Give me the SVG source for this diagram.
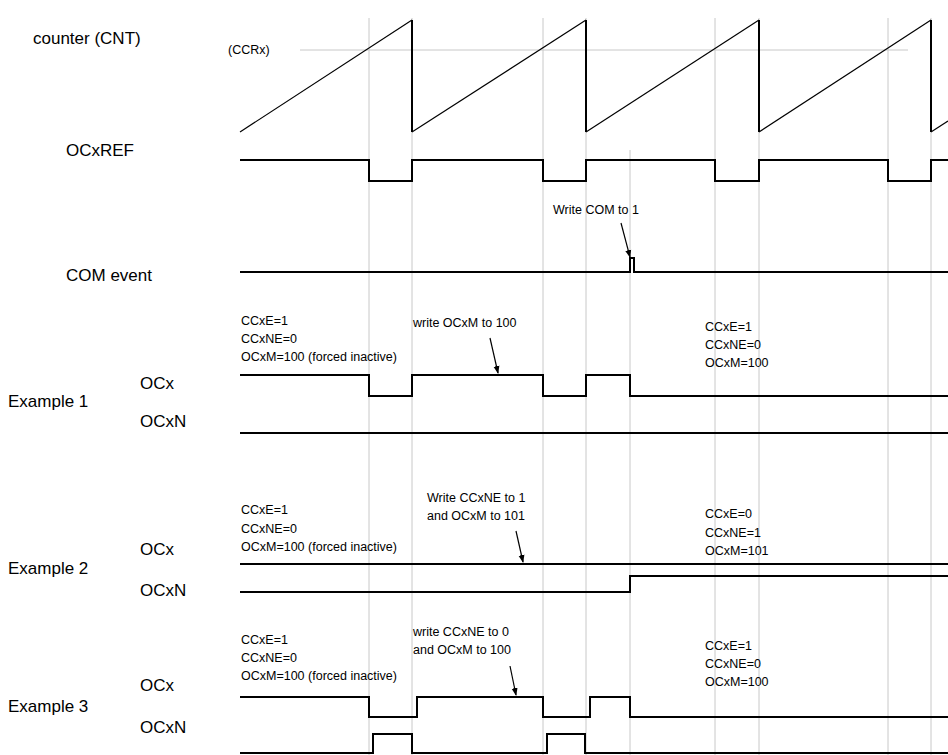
<svg xmlns="http://www.w3.org/2000/svg" width="948" height="755" viewBox="0 0 948 755">
<style>
.g{stroke:#c8c8c8;stroke-width:1;fill:none}
.s{stroke:#000;stroke-width:2;fill:none}
.t{stroke:#000;stroke-width:1.2;fill:none}
.lb{font-family:"Liberation Sans",Arial,sans-serif;font-size:17px;fill:#000}
.an{font-family:"Liberation Sans",Arial,sans-serif;font-size:12.5px;fill:#000}
</style>
<defs><marker id="ah" markerWidth="8" markerHeight="12" refX="7" refY="4" orient="auto" markerUnits="userSpaceOnUse" viewBox="0 0 8 8"><path d="M0,1 L8,4 L0,7 Z" fill="#000"/></marker></defs>
<rect width="948" height="755" fill="#fff"/>
<g id="grid">
<path class="g" d="M369 18V755M412 18V755M543 18V755M586 18V755M630 150V755M715 18V755M759 18V755M888 18V755M931 18V755"/>
<path class="g" d="M300 50H908"/>
</g>
<g id="labels">
<text class="lb" x="33" y="44">counter (CNT)</text>
<text class="an" x="228" y="54" font-size="10">(CCRx)</text>
<text class="lb" x="66" y="156">OCxREF</text>
<text class="lb" x="66" y="281">COM event</text>
<text class="lb" x="140" y="389">OCx</text>
<text class="lb" x="8" y="407">Example 1</text>
<text class="lb" x="140" y="427">OCxN</text>
<text class="lb" x="140" y="555">OCx</text>
<text class="lb" x="8" y="574">Example 2</text>
<text class="lb" x="140" y="596">OCxN</text>
<text class="lb" x="140" y="691">OCx</text>
<text class="lb" x="8" y="712">Example 3</text>
<text class="lb" x="140" y="733">OCxN</text>
</g>
<g id="annotations">
<text class="an" x="553" y="214">Write COM to 1</text>
<text class="an" x="241" y="325">CCxE=1</text><text class="an" x="241" y="343">CCxNE=0</text><text class="an" x="241" y="361">OCxM=100 (forced inactive)</text>
<text class="an" x="413" y="327">write OCxM to 100</text>
<text class="an" x="705" y="331">CCxE=1</text><text class="an" x="705" y="349">CCxNE=0</text><text class="an" x="705" y="367">OCxM=100</text>
<text class="an" x="427" y="502">Write CCxNE to 1</text><text class="an" x="427" y="520">and OCxM to 101</text>
<text class="an" x="241" y="514">CCxE=1</text><text class="an" x="241" y="533">CCxNE=0</text><text class="an" x="241" y="551">OCxM=100 (forced inactive)</text>
<text class="an" x="705" y="518">CCxE=0</text><text class="an" x="705" y="537">CCxNE=1</text><text class="an" x="705" y="555">OCxM=101</text>
<text class="an" x="413" y="636">write CCxNE to 0</text><text class="an" x="413" y="654">and OCxM to 100</text>
<text class="an" x="241" y="644">CCxE=1</text><text class="an" x="241" y="662">CCxNE=0</text><text class="an" x="241" y="680">OCxM=100 (forced inactive)</text>
<text class="an" x="705" y="650">CCxE=1</text><text class="an" x="705" y="668">CCxNE=0</text><text class="an" x="705" y="686">OCxM=100</text>
</g>
<g id="connectors">
<path class="t" d="M621 223L630 257" marker-end="url(#ah)"/>
<path class="t" d="M490 338L498 373" marker-end="url(#ah)"/>
<path class="t" d="M516 531L523 562" marker-end="url(#ah)"/>
<path class="t" d="M510 666L516 695" marker-end="url(#ah)"/>
</g>
<g id="waves">
<path class="t" d="M240 132L412 20"/>
<path class="s" d="M412 20V132"/><path class="t" d="M412 132L586 20"/>
<path class="s" d="M586 20V132"/><path class="t" d="M586 132L759 20"/>
<path class="s" d="M759 20V132"/><path class="t" d="M759 132L931 20"/>
<path class="s" d="M931 20V132"/><path class="t" d="M931 132L948 121"/>
<path class="s" d="M240 160H369V181H412V160H543V181H586V160H715V181H759V160H888V181H931V160H948"/>
<path class="s" d="M240 272H630V258H634V272H948"/>
<path class="s" d="M240 375H369V396H412V375H543V396H586V375H630V396H948"/>
<path class="s" d="M240 433H948"/>
<path class="s" d="M240 564H948"/>
<path class="s" d="M240 592H630V576H948"/>
<path class="s" d="M240 697H369V717H417V697H543V717H590V697H630V717H948"/>
<path class="s" d="M240 753H373V734H412V753H547V734H585V753H948"/>
</g>
</svg>
